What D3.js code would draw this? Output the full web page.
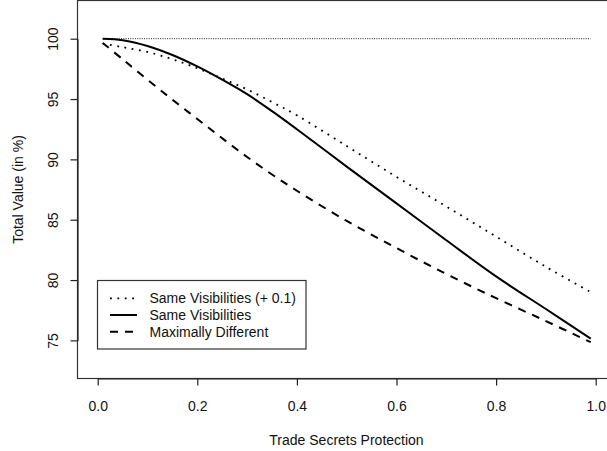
<!DOCTYPE html>
<html><head><meta charset="utf-8">
<script src="https://cdnjs.cloudflare.com/ajax/libs/d3/7.8.5/d3.min.js"></script>
<style>
html,body{margin:0;padding:0;background:#fff;}
svg{display:block;font-family:"Liberation Sans",Arial,Helvetica,sans-serif;}
</style></head>
<body><svg id="chart" width="607" height="451"></svg>
<script>
// ---- data ----
const protection = [0.01,0.05,0.1,0.15,0.2,0.25,0.3,0.35,0.4,0.5,0.6,0.7,0.8,0.9,0.99];
const sameVisPlus = [99.6,99.3,98.9,98.3,97.55,96.7,95.8,94.75,93.65,91.1,88.55,86.1,83.6,81.1,79.0];
const sameVis     = [100.0,99.88,99.4,98.65,97.7,96.6,95.4,94.0,92.5,89.4,86.35,83.3,80.3,77.6,75.15];
const maxDiff     = [99.65,98.3,96.6,94.95,93.35,91.75,90.2,88.75,87.4,84.9,82.65,80.5,78.5,76.6,74.85];
const refLevel = [100];
const refRange = [0.01,0.99];
const xTicks = [0,0.2,0.4,0.6,0.8,1.0];
const yTicks = [75,80,85,90,95,100];
const seriesNames = ["Same Visibilities (+ 0.1)","Same Visibilities","Maximally Different"];
const xTitle = "Trade Secrets Protection";
const yTitle = "Total Value (in %)";

// ---- layout ----
const svg = d3.select("#chart");
const box = {left:77.5, top:0.5, right:640, bottom:378.5};
const x = d3.scaleLinear().domain([0,1]).range([97.7,595.7]);
const y = d3.scaleLinear().domain([75,100]).range([340.4,38.7]);

const styles = [
  {dash:"1.8,5.6", w:1.8},
  {dash:null, w:2},
  {dash:"8,7", w:2}
];
const series = [sameVisPlus, sameVis, maxDiff];

// plot box
svg.append("rect").attr("x",box.left).attr("y",box.top)
  .attr("width",box.right-box.left).attr("height",box.bottom-box.top)
  .attr("fill","none").attr("stroke","#333").attr("stroke-width",1.2);

// axes
const xAxis = d3.axisBottom(x).tickValues(xTicks).tickFormat(d3.format(".1f")).tickSize(7).tickSizeOuter(0);
const gx = svg.append("g").attr("transform",`translate(0,${box.bottom})`).call(xAxis);
gx.select(".domain").attr("stroke","#222").attr("stroke-width",1.2);
gx.selectAll(".tick line").attr("stroke","#222").attr("stroke-width",1.2);
gx.selectAll("text").attr("y",32.5).attr("dy",0).attr("font-size",14)
  .attr("font-family","Liberation Sans, Arial, sans-serif").attr("fill","#111");

const yAxis = d3.axisLeft(y).tickValues(yTicks).tickFormat(d3.format("d")).tickSize(7).tickSizeOuter(0);
const gy = svg.append("g").attr("transform",`translate(${box.left},0)`).call(yAxis);
gy.select(".domain").attr("stroke","#222").attr("stroke-width",1.2);
gy.selectAll(".tick line").attr("stroke","#222").attr("stroke-width",1.2);
gy.selectAll("text").attr("x",0).attr("dy",0).attr("text-anchor","middle")
  .attr("transform","translate(-19.5,0) rotate(-90)").attr("font-size",14)
  .attr("font-family","Liberation Sans, Arial, sans-serif").attr("fill","#111");

// titles
svg.append("text").attr("x",346.5).attr("y",445).attr("text-anchor","middle")
  .attr("font-size",14).attr("fill","#111").text(xTitle);
svg.append("text").attr("transform","translate(22.5,189.5) rotate(-90)").attr("text-anchor","middle")
  .attr("font-size",14).attr("fill","#111").text(yTitle);

// reference line at 100
svg.append("line").attr("x1",x(refRange[0])).attr("x2",x(refRange[1]))
  .attr("y1",y(refLevel[0])).attr("y2",y(refLevel[0]))
  .attr("stroke","#222").attr("stroke-width",1).attr("stroke-dasharray","1,1.3");

// curves
const line = d3.line().x((d,i)=>x(protection[i])).y(d=>y(d)).curve(d3.curveCatmullRom.alpha(0.5));
series.forEach((s,k)=>{
  svg.append("path").attr("d",line(s)).attr("fill","none").attr("stroke","#000")
    .attr("stroke-width",styles[k].w).attr("stroke-dasharray",styles[k].dash);
});

// legend
const lg = svg.append("g");
lg.append("rect").attr("x",97.5).attr("y",280.5).attr("width",208.5).attr("height",68.5)
  .attr("fill","#fff").attr("stroke","#333").attr("stroke-width",1.2);
const ly = [298.3,315,331.7];
seriesNames.forEach((n,k)=>{
  lg.append("line").attr("x1",110).attr("x2",137).attr("y1",ly[k]).attr("y2",ly[k])
    .attr("stroke","#000").attr("stroke-width",styles[k].w).attr("stroke-dasharray",styles[k].dash);
  lg.append("text").attr("x",149.5).attr("y",ly[k]+5).attr("font-size",14).attr("fill","#111").text(n);
});
</script></body></html>
